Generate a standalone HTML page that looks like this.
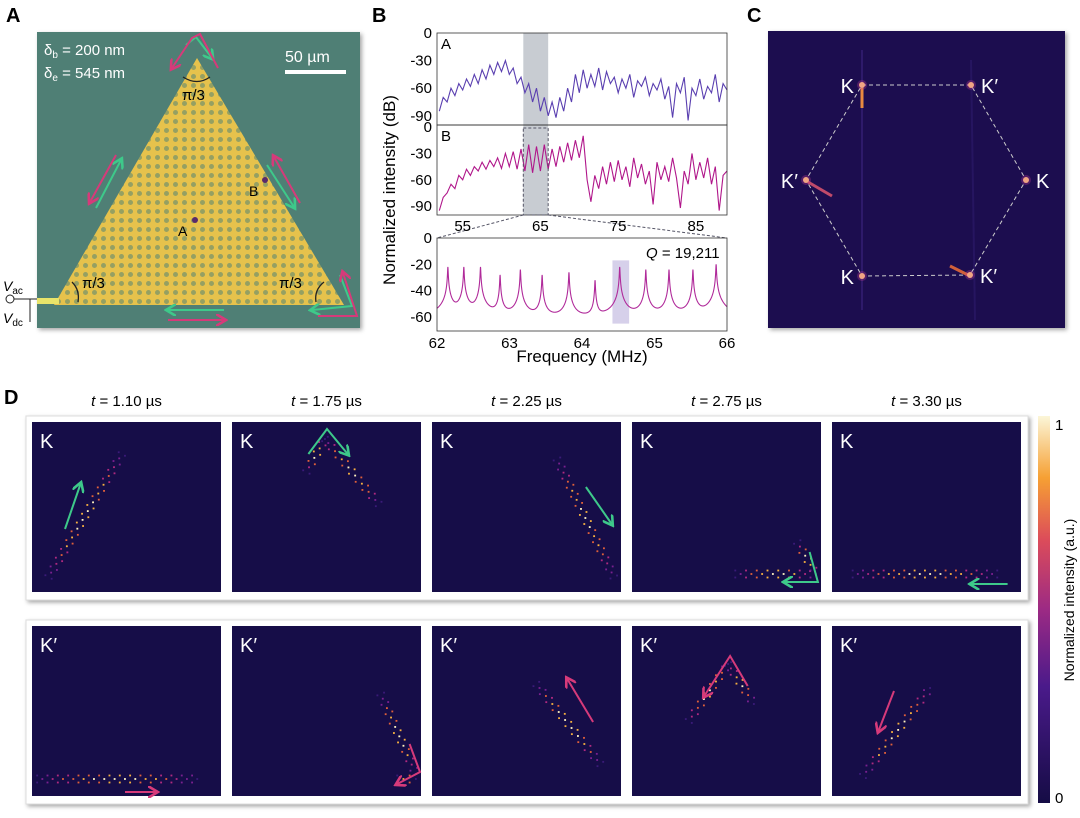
<!DOCTYPE html>
<html><head><meta charset="utf-8">
<style>
body{margin:0;background:#fff;width:1080px;height:813px;overflow:hidden;font-family:"Liberation Sans",sans-serif}
svg text{font-family:"Liberation Sans","DejaVu Sans",sans-serif}
</style></head>
<body>
<svg id="fig" width="1080" height="813" viewBox="0 0 1080 813" xmlns="http://www.w3.org/2000/svg">
<defs>
<pattern id="holes" x="0" y="0" width="9" height="9" patternUnits="userSpaceOnUse">
<rect width="9" height="9" fill="#e6c24c"/><circle cx="4.5" cy="4.5" r="2.5" fill="#95a062"/></pattern>
<linearGradient id="cbar" x1="0" y1="1" x2="0" y2="0">
<stop offset="0" stop-color="#150c45"/><stop offset="0.3" stop-color="#4a1a8a"/><stop offset="0.5" stop-color="#9c2a84"/><stop offset="0.68" stop-color="#dc4c5a"/><stop offset="0.84" stop-color="#f6a033"/><stop offset="1" stop-color="#fbf6d8"/></linearGradient>
<filter id="sh" x="-5%" y="-5%" width="110%" height="110%"><feDropShadow dx="2" dy="2" stdDeviation="2" flood-color="#000" flood-opacity="0.35"/></filter>
<marker id="ag" markerWidth="6" markerHeight="6" refX="4" refY="3" orient="auto"><path d="M0,0 L5,3 L0,6" fill="none" stroke="#3ec98a" stroke-width="1.3"/></marker>
<marker id="am" markerWidth="6" markerHeight="6" refX="4" refY="3" orient="auto"><path d="M0,0 L5,3 L0,6" fill="none" stroke="#d63a7a" stroke-width="1.3"/></marker>
</defs>

<!-- Panel A -->
<text x="6" y="22" font-size="20" font-weight="bold">A</text>
<g filter="url(#sh)">
<rect x="37" y="32" width="323" height="296" fill="#4f7f74"/>
</g>
<polygon points="197,58 54,305 344,305" fill="url(#holes)"/>
<rect x="37" y="298" width="22" height="6" fill="#e9e46a"/>
<text x="44" y="55" font-size="15" fill="#fff">δ<tspan font-size="10" dy="3">b</tspan><tspan dy="-3"> = 200 nm</tspan></text>
<text x="44" y="78" font-size="15" fill="#fff">δ<tspan font-size="10" dy="3">e</tspan><tspan dy="-3"> = 545 nm</tspan></text>
<text x="285" y="62" font-size="16" fill="#fff">50 µm</text>
<rect x="285" y="70" width="61" height="4" fill="#fff"/>
<text x="182" y="100" font-size="15">π/3</text>
<path d="M183,77 Q197,86 210,77" fill="none" stroke="#222" stroke-width="1.3"/>
<text x="82" y="288" font-size="15">π/3</text>
<path d="M72,282 Q80,290 78,302" fill="none" stroke="#222" stroke-width="1.3"/>
<text x="279" y="288" font-size="15">π/3</text>
<path d="M324,282 Q314,290 316,302" fill="none" stroke="#222" stroke-width="1.3"/>
<circle cx="195" cy="220" r="3" fill="#5a2a6a"/><text x="178" y="236" font-size="14">A</text>
<circle cx="265" cy="180" r="3" fill="#5a2a6a"/><text x="249" y="196" font-size="14">B</text>
<g fill="none" stroke-width="2">
<path d="M186,45 L196,37 L212,58" stroke="#3ec98a" marker-end="url(#ag)"/>
<path d="M218,68 L200,34 L192,38 L172,68" stroke="#d63a7a" marker-end="url(#am)"/>
<path d="M96,208 L121,160" stroke="#3ec98a" marker-end="url(#ag)"/>
<path d="M116,155 L90,202" stroke="#d63a7a" marker-end="url(#am)"/>
<path d="M267,165 L294,207" stroke="#3ec98a" marker-end="url(#ag)"/>
<path d="M300,203 L274,157" stroke="#d63a7a" marker-end="url(#am)"/>
<path d="M224,310 L168,310" stroke="#3ec98a" marker-end="url(#ag)"/>
<path d="M168,320 L224,320" stroke="#d63a7a" marker-end="url(#am)"/>
<path d="M340,275 L352,306 L312,310" stroke="#3ec98a" marker-end="url(#ag)"/>
<path d="M318,316 L357,316 L343,273" stroke="#d63a7a" marker-end="url(#am)"/>
</g>
<text x="3" y="291" font-size="14" font-style="italic">V<tspan font-size="10" font-style="normal" dy="3">ac</tspan></text>
<circle cx="10" cy="299" r="4" fill="none" stroke="#222"/>
<line x1="14" y1="299" x2="37" y2="299" stroke="#222"/>
<line x1="30" y1="299" x2="30" y2="322" stroke="#222"/>
<text x="3" y="323" font-size="14" font-style="italic">V<tspan font-size="10" font-style="normal" dy="3">dc</tspan></text>

<!-- Panel B -->
<text x="372" y="22" font-size="20" font-weight="bold">B</text>
<g id="panelB"></g>
<text transform="translate(395,190) rotate(-90)" text-anchor="middle" font-size="17">Normalized intensity (dB)</text>
<text x="582" y="362" text-anchor="middle" font-size="17">Frequency (MHz)</text>

<!-- Panel C -->
<text x="747" y="22" font-size="20" font-weight="bold">C</text>
<g filter="url(#sh)"><rect x="768" y="31" width="297" height="297" fill="#1b0f4f"/></g>
<g id="panelC"></g>

<!-- Panel D -->
<text x="4" y="404" font-size="20" font-weight="bold">D</text>
<g id="panelD"></g>
<rect x="1038" y="416" width="12" height="387" fill="url(#cbar)"/>
<text x="1055" y="430" font-size="15">1</text>
<text x="1055" y="803" font-size="15">0</text>
<text transform="translate(1074,600) rotate(-90)" text-anchor="middle" font-size="14">Normalized intensity (a.u.)</text>
</svg>
<script>
// ===== Panel B data =====
const specStart = 52, specStep = 0.5;
const specA = [-85,-70,-75,-60,-68,-55,-62,-50,-58,-45,-55,-40,-50,-35,-45,-32,-42,-30,-45,-38,-55,-48,-65,-55,-75,-60,-85,-70,-90,-75,-92,-70,-85,-60,-75,-45,-65,-40,-60,-45,-58,-38,-62,-42,-55,-48,-65,-50,-60,-45,-70,-52,-58,-48,-68,-55,-62,-50,-72,-58,-92,-55,-65,-48,-95,-60,-68,-50,-72,-58,-65,-45,-75,-55,-62];
const specB = [-95,-80,-75,-65,-70,-55,-60,-48,-55,-45,-50,-40,-48,-38,-45,-35,-47,-30,-45,-28,-48,-25,-50,-20,-52,-22,-50,-20,-48,-25,-45,-22,-40,-18,-38,-15,-35,-10,-60,-85,-55,-70,-45,-65,-40,-62,-38,-60,-45,-68,-35,-58,-42,-65,-50,-88,-40,-60,-45,-62,-35,-58,-92,-50,-65,-30,-60,-40,-58,-35,-65,-45,-95,-55,-50];
const specXTicks = [55,65,75,85];
const specYTicks = [0,-30,-60,-90];
const peakFreqs = [62.15,62.37,62.6,62.87,63.15,63.45,63.82,64.18,64.52,64.88,65.2,65.53,65.85];
const peakVals  = [-22,-22,-22,-28,-24,-28,-26,-32,-22,-24,-24,-24,-20];
const zoomXTicks = [62,63,64,65,66];
const zoomYTicks = [0,-20,-40,-60];
const bandFull = [62.8,66.0];
const bandPeak = [64.42,64.65];

const NS='http://www.w3.org/2000/svg';
function mk(tag,attrs,parent){const e=document.createElementNS(NS,tag);for(const k in attrs)e.setAttribute(k,attrs[k]);parent.appendChild(e);return e;}
const B=document.getElementById('panelB');
const L=437,R=727;
const xs=f=>L+(f-51.7)/(89-51.7)*(R-L);
function yA(v){return 33+(-v)/100*(125-33);}
function yB(v){return 127+(-v)/100*(215-127);}
const zx=f=>L+(f-62)/4*(R-L);
const zy=v=>238+(-v)/70.6*(331-238);

let sb=mk('rect',{x:xs(bandFull[0]),y:33,width:xs(bandFull[1])-xs(bandFull[0]),height:182,fill:'#c8ccd2'},B);


function drawSpec(arr,yf,color,name){
  let d='';arr.forEach((v,i)=>{const f=specStart+i*specStep;d+=(i?'L':'M')+xs(f).toFixed(1)+','+yf(Math.max(v,-97)).toFixed(1);});
  const p=mk('path',{d:d,fill:'none',stroke:color,'stroke-width':1.1},B);
  
  
}
drawSpec(specA,yA,'#5a3fb0','spectrum-a');
drawSpec(specB,yB,'#b0168a','spectrum-b');
mk('rect',{x:L,y:33,width:R-L,height:92,fill:'none',stroke:'#333','stroke-width':0.8},B);
mk('rect',{x:L,y:125,width:R-L,height:90,fill:'none',stroke:'#333','stroke-width':0.8},B);
mk('rect',{x:xs(bandFull[0]),y:128,width:xs(bandFull[1])-xs(bandFull[0]),height:87,fill:'none',stroke:'#556','stroke-dasharray':'3,2'},B);
mk('path',{d:`M${xs(bandFull[0])},215 L${L},238 M${xs(bandFull[1])},215 L${R},238`,fill:'none',stroke:'#556','stroke-dasharray':'3,2'},B);
let tA=mk('text',{x:441,y:49,'font-size':15},B);tA.textContent='A';
let tB=mk('text',{x:441,y:141,'font-size':15},B);tB.textContent='B';
specYTicks.forEach(v=>{
  [[yA,'a'],[yB,'b']].forEach(([f,s])=>{
    const t=mk('text',{x:432,y:f(v)+5,'text-anchor':'end','font-size':15},B);t.textContent=v;
    
    
  });
});
specXTicks.forEach(v=>{
  const t=mk('text',{x:xs(v),y:231,'text-anchor':'middle','font-size':15},B);t.textContent=v;
  
  
});
mk('rect',{x:zx(bandPeak[0]),y:zy(-17),width:zx(bandPeak[1])-zx(bandPeak[0]),height:zy(-65)-zy(-17),fill:'#d6d0ea'},B);
function zval(f){
  let s=Math.pow(10,-66/10);const g=0.0035;
  for(let i=0;i<peakFreqs.length;i++){
    const dx=f-peakFreqs[i];
    s+=Math.pow(10,peakVals[i]/10)*g*g/(g*g+dx*dx);
  }
  return 10*Math.log10(s);
}
let fr=[];for(let i=0;i<=2400;i++)fr.push(62+i*4/2400);
fr=fr.concat(peakFreqs).sort((a,b)=>a-b);
let dz='';fr.forEach((f,i)=>{dz+=(i?'L':'M')+zx(f).toFixed(2)+','+zy(zval(f)).toFixed(2);});
const zp=mk('path',{d:dz,fill:'none',stroke:'#b02a9a','stroke-width':1.1},B);


mk('rect',{x:L,y:238,width:R-L,height:93,fill:'none',stroke:'#333','stroke-width':0.8},B);
zoomYTicks.forEach(v=>{const t=mk('text',{x:432,y:zy(v)+5,'text-anchor':'end','font-size':15},B);t.textContent=v;
  
  });
zoomXTicks.forEach(v=>{const t=mk('text',{x:zx(v),y:348,'text-anchor':'middle','font-size':15},B);t.textContent=v;
  
  });
const qt=mk('text',{x:646,y:258,'font-size':15},B);
qt.innerHTML='<tspan font-style="italic">Q</tspan> = 19,211';



// ===== Panel C =====
const C=document.getElementById('panelC');
const hexPts=[[862,85,'K',-1],[971,85,'K′',1],[1026,180,'K',1],[970,275,'K′',1],[862,276,'K',-1],[806,180,'K′',-1]];
mk('line',{x1:862,y1:50,x2:862,y2:310,stroke:'#2e1a6a','stroke-width':2},C);
mk('line',{x1:971,y1:60,x2:975,y2:320,stroke:'#261560','stroke-width':2},C);
mk('polygon',{points:hexPts.map(p=>p[0]+','+p[1]).join(' '),fill:'none',stroke:'#ccc','stroke-width':1,'stroke-dasharray':'4,3'},C);
mk('line',{x1:862,y1:88,x2:862,y2:108,stroke:'#e88a40','stroke-width':3},C);
mk('line',{x1:808,y1:182,x2:832,y2:196,stroke:'#c04a6a','stroke-width':3},C);
mk('line',{x1:950,y1:266,x2:968,y2:275,stroke:'#d0603a','stroke-width':3},C);
hexPts.forEach(p=>{
  mk('circle',{cx:p[0],cy:p[1],r:3,fill:'#ffd27a'},C);
  mk('circle',{cx:p[0],cy:p[1],r:5,fill:'#d0409a',opacity:0.3},C);
  const t=mk('text',{x:p[0]+(p[3]<0?-8:10),y:p[1]+8,'text-anchor':p[3]<0?'end':'start','font-size':20,fill:'#fff'},C);
  t.textContent=p[2];
  
  
});

// ===== Panel D =====
const times=['1.10','1.75','2.25','2.75','3.30'];
const panelX=[32,232,432,632,832];
const rowY=[422,626];
const PW=189, PH=170, SX=189/183;
const rowLabel=['K','K′'];
const segsK=[[[16,155,87,32]],[[72,50,90,17],[90,17,142,82]],[[121,37,176,155]],[[160,120,178,152],[100,152,178,152]],[[20,152,160,152]]];
const segsKp=[[[5,153,160,153]],[[144,68,178,148],[160,153,178,153]],[[101,58,163,138]],[[55,95,93,38],[93,38,118,78]],[[30,150,95,62]]];
const arrK=[[[32,107],[47,62]],[[74,32],[92,7],[112,32]],[[149,65],[174,102]],[[172,130],[180,160],[148,160]],[[170,162],[135,162]]];
const arrKp=[[[90,166],[120,166]],[[172,118],[182,146],[160,158]],[[156,96],[131,53]],[[112,60],[95,30],[70,70]],[[60,65],[45,105]]];
const D=document.getElementById('panelD');
times.forEach((t,i)=>{const e=mk('text',{x:panelX[i]+PW/2,y:406,'text-anchor':'middle','font-size':15},D);
  e.innerHTML='<tspan font-style="italic">t</tspan> = '+t+' µs';
  
  });
[0,1].forEach(r=>{
  const fr=mk('rect',{x:26,y:rowY[r]-6,width:1002,height:184,fill:'#fff',stroke:'#ddd',filter:'url(#sh)'},D);
  
  
});
const cols=['#3a1a78','#7a2090','#b02a80','#e0603a','#f6b040','#fff3c0'];
[0,1].forEach(r=>{
  panelX.forEach((px,i)=>{
    const py=rowY[r];
    const g=mk('g',{transform:`translate(${px},${py})`},D);
    
    
    mk('rect',{width:PW,height:PH,fill:'#160d48'},g);
    const lb=mk('text',{x:8,y:26,'font-size':20,fill:'#fff'},g);lb.textContent=rowLabel[r];
    const inner=mk('g',{transform:`scale(${SX},1)`},g);
    const segs=(r?segsKp:segsK)[i];
    segs.forEach(s=>{
      const len=Math.hypot(s[2]-s[0],s[3]-s[1]);const n=Math.floor(len/5);
      const nx=-(s[3]-s[1])/len, ny=(s[2]-s[0])/len;
      for(let k=0;k<=n;k++){const u=k/n;const env=Math.sin(Math.PI*Math.min(1,Math.max(0,u*0.9+0.05)));
        for(let w=-1;w<=1;w++){
          if((k+w+3)%2) continue;
          const cx=s[0]+(s[2]-s[0])*u+nx*w*3.5, cy=s[1]+(s[3]-s[1])*u+ny*w*3.5;
          const ci=Math.min(5,Math.floor(env*(w===0?5.5:4.2)));
          mk('rect',{x:cx-0.9,y:cy-0.9,width:1.8,height:1.8,fill:cols[ci]},inner);
        }}
    });
    const a=(r?arrKp:arrK)[i];
    const col=r?'#d63a7a':'#3ec98a';
    mk('path',{d:a.map((p,j)=>(j?'L':'M')+(p[0]*SX).toFixed(1)+','+p[1]).join(''),fill:'none',stroke:col,'stroke-width':2,'marker-end':r?'url(#am)':'url(#ag)'},g);
  });
});
</script>
</body></html>
